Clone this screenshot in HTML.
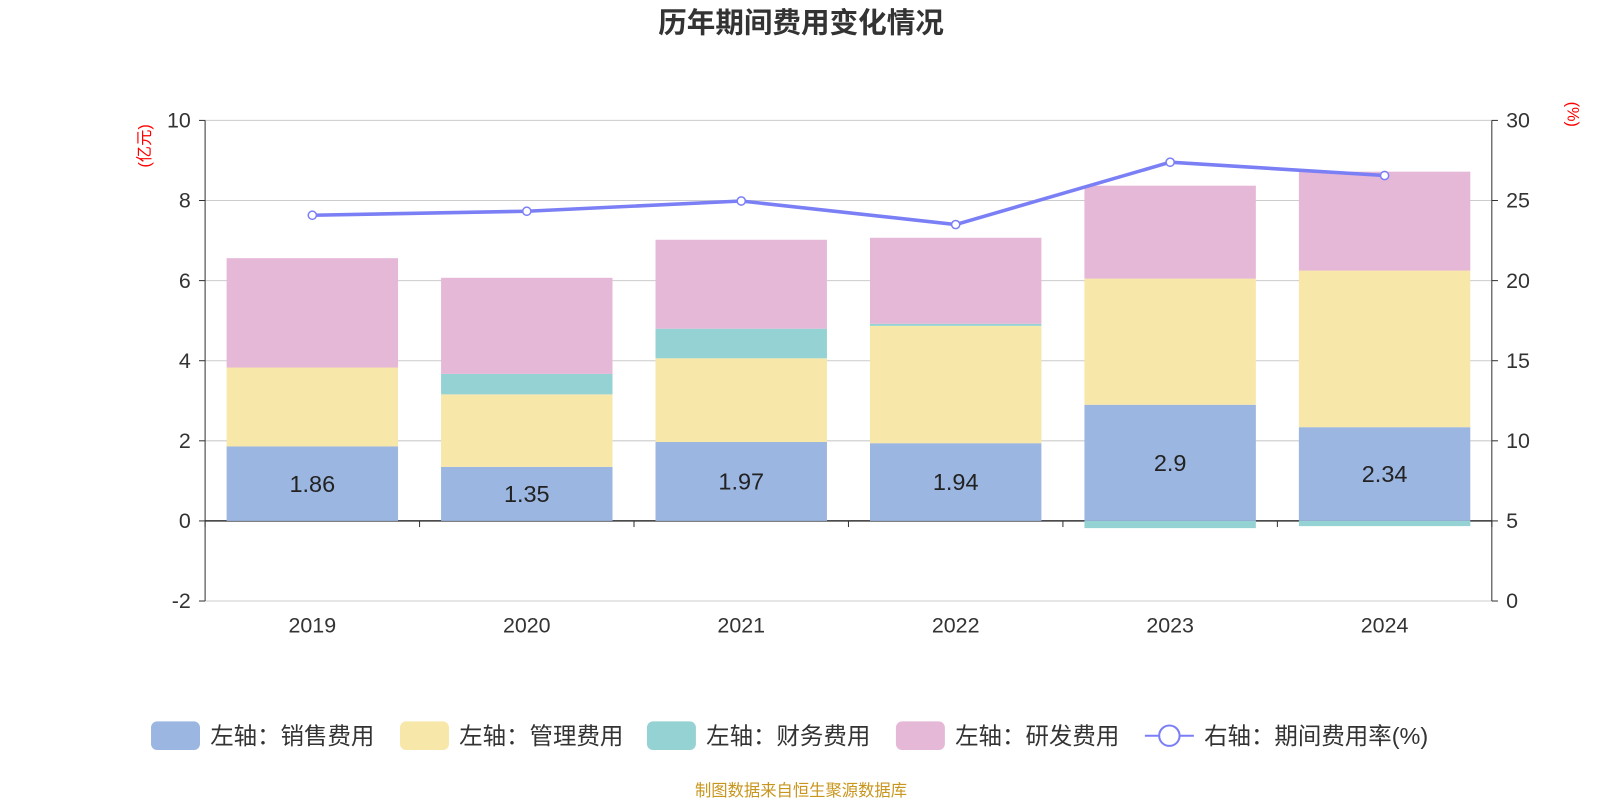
<!DOCTYPE html>
<html><head><meta charset="utf-8"><style>
body{margin:0;background:#fff;overflow:hidden;}
svg text{font-family:"Liberation Sans","Noto Sans CJK SC",sans-serif;}
</style></head><body>
<svg id="c" width="1600" height="800" xmlns="http://www.w3.org/2000/svg">
<g transform="scale(1.0204)">
<text x="785" y="32" text-anchor="middle" font-size="28" font-weight="bold" fill="#333">历年期间费用变化情况</text>
<text transform="translate(147,143) rotate(-90)" text-anchor="middle" font-size="16" fill="#f00">(亿元)</text>
<text transform="translate(1536,112) rotate(90)" text-anchor="middle" font-size="16" fill="#f00">(%)</text>
<g id="grid"></g><g id="bars"></g><g id="axes"></g><g id="line"></g>
<g id="legend"></g>
<text x="785" y="780" text-anchor="middle" font-size="16" fill="#c8961e">制图数据来自恒生聚源数据库</text>
</g>
</svg>
<script>
const years=['2019','2020','2021','2022','2023','2024'];
const sales=[1.86,1.35,1.97,1.94,2.9,2.34];
const mgmt=[1.97,1.81,2.09,2.93,3.15,3.91];
const fin=[0,0.51,0.74,0.05,-0.18,-0.13];
const rnd=[2.73,2.40,2.22,2.15,2.32,2.47];
const rate=[24.08,24.33,24.97,23.5,27.39,26.56];
const leftTicks=[-2,0,2,4,6,8,10];
const rightTicks=[0,5,10,15,20,25,30];
const NS='http://www.w3.org/2000/svg';
const X0=201,X1=1462,YT=118,YB=589;
const yL=v=>YB-(v+2)/12*(YB-YT);
const yR=v=>YB-v/30*(YB-YT);
const bw=(X1-X0)/years.length;
const xc=i=>X0+bw*(i+0.5);
function mk(t,a,p){const e=document.createElementNS(NS,t);for(const k in a)e.setAttribute(k,a[k]);document.getElementById(p).appendChild(e);return e;}
leftTicks.forEach(v=>{
 const y=yL(v);
 const g=mk('line',{x1:X0,x2:X1,y1:y,y2:y,stroke:v===0?'#333':'#ccc','stroke-width':v===0?1.5:1},'grid');
 
 
 mk('line',{x1:X0-6,x2:X0,y1:y,y2:y,stroke:'#333'},'axes');
 const t=mk('text',{x:X0-14,y:y+7,'text-anchor':'end','font-size':21,fill:'#333'},'axes');t.textContent=v;
 
 
});
rightTicks.forEach(v=>{
 const y=yR(v);
 mk('line',{x1:X1,x2:X1+6,y1:y,y2:y,stroke:'#333'},'axes');
 const t=mk('text',{x:X1+14,y:y+7,'font-size':21,fill:'#333'},'axes');t.textContent=v;
 
 
});
mk('line',{x1:X0,x2:X0,y1:YT,y2:YB,stroke:'#333'},'axes');
mk('line',{x1:X1,x2:X1,y1:YT,y2:YB,stroke:'#333'},'axes');
for(let i=0;i<=years.length;i++){mk('line',{x1:X0+bw*i,x2:X0+bw*i,y1:yL(0),y2:yL(0)+6,stroke:'#333'},'axes');}
const cols=['#9bb6e0','#f7e7a9','#95d2d3','#e6b8d7'];
const series=[sales,mgmt,fin,rnd];
const sn=['sales','mgmt','fin','rnd'];
years.forEach((yr,i)=>{
 let pos=0,neg=0;
 series.forEach((s,k)=>{
  const v=s[i];let a,b;
  if(v>=0){a=pos;b=pos+v;pos=b;}else{a=neg;b=neg+v;neg=b;}
  const r=mk('rect',{x:xc(i)-84,width:168,y:Math.min(yL(a),yL(b)),height:Math.abs(yL(a)-yL(b)),fill:cols[k]},'bars');
  
  
 });
 const t=mk('text',{x:xc(i),y:(yL(0)+yL(sales[i]))/2+8,'text-anchor':'middle','font-size':23,fill:'#222'},'bars');t.textContent=sales[i];
 
 
 const xl=mk('text',{x:xc(i),y:620,'text-anchor':'middle','font-size':21,fill:'#333'},'axes');xl.textContent=yr;
 
 
});
const pl=mk('polyline',{points:rate.map((v,i)=>xc(i)+','+yR(v)).join(' '),fill:'none',stroke:'#7b7ff5','stroke-width':3.5},'line');


rate.forEach((v,i)=>{const c=mk('circle',{cx:xc(i),cy:yR(v),r:4,fill:'#fff',stroke:'#7b7ff5','stroke-width':1.5},'line');
 
 });
const leg=[['左轴：销售费用',148],['左轴：管理费用',392],['左轴：财务费用',634],['左轴：研发费用',878]];
leg.forEach((l,k)=>{
 const r=mk('rect',{x:l[1],y:707,width:48,height:28,rx:6,fill:cols[k]},'legend');
 
 
 const t=mk('text',{x:l[1]+58,y:729,'font-size':23,fill:'#333'},'legend');t.textContent=l[0];
 
 
});
mk('line',{x1:1122,x2:1170,y1:721,y2:721,stroke:'#7b7ff5','stroke-width':2},'legend');
mk('circle',{cx:1146,cy:721,r:10,fill:'#fff',stroke:'#7b7ff5','stroke-width':2},'legend');
const lt=mk('text',{x:1180,y:729,'font-size':23,fill:'#333'},'legend');lt.textContent='右轴：期间费用率(%)';


</script>
</body></html>
